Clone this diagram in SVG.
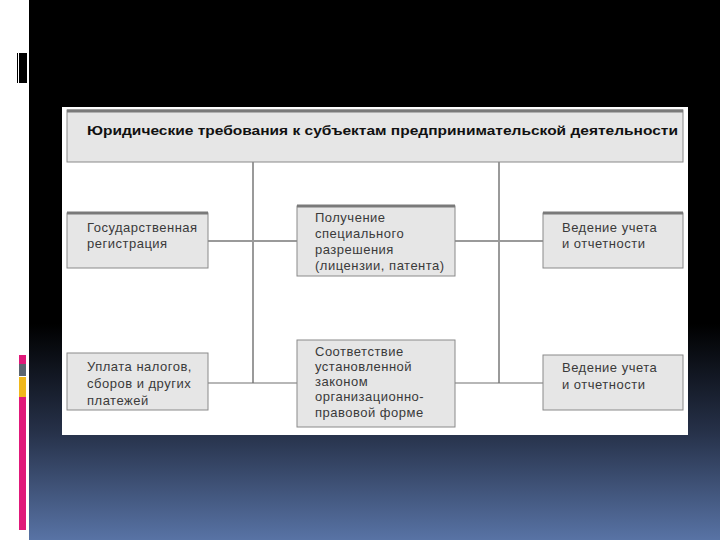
<svg xmlns="http://www.w3.org/2000/svg" width="720" height="540" viewBox="0 0 720 540">
<defs>
<linearGradient id="bg" x1="0" y1="0" x2="0" y2="1">
<stop offset="0" stop-color="#000000"/>
<stop offset="0.6" stop-color="#000000"/>
<stop offset="0.8" stop-color="#263149"/>
<stop offset="1" stop-color="#5873a5"/>
</linearGradient>
<style>
.box{fill:#e6e6e6;stroke:#8a8a8a;stroke-width:1}
.topb{stroke:#7a7a7a;stroke-width:3}
.t{font-family:"Liberation Sans","DejaVu Sans",sans-serif;font-size:13px;letter-spacing:0.5px;fill:#3a3a3a}
.title{font-family:"Liberation Sans","DejaVu Sans",sans-serif;font-size:12.5px;font-weight:bold;fill:#111}
.c1{stroke:#9a9a9a;stroke-width:2;fill:none}
.c2{stroke:#707070;stroke-width:1.2;fill:none}
</style>
</defs>
<rect x="0" y="0" width="720" height="540" fill="#ffffff"/>
<rect x="29" y="0" width="691" height="540" fill="url(#bg)"/>
<rect x="17" y="53" width="1" height="30" fill="#000"/>
<rect x="19" y="53" width="8" height="30" fill="#000"/>
<rect x="19" y="355" width="7" height="9" fill="#e0197a"/>
<rect x="19" y="364" width="7" height="12" fill="#5b6570"/>
<rect x="19" y="377" width="7" height="20" fill="#f0b81c"/>
<rect x="19" y="397" width="7" height="133" fill="#e0197a"/>
<rect x="62" y="107" width="626" height="328" fill="#ffffff"/>
<g id="connectors">
<path class="c1" d="M253 162V383M499 162V383"/>
<path class="c1" d="M208 241H297M455 241H543"/>
<path class="c2" d="M208 383H297M455 383H543"/>
</g>
<g id="header">
<rect class="box" x="67" y="110" width="616" height="52"/>
<line class="topb" x1="67" y1="111" x2="683" y2="111"/>
<text class="title" x="87" y="135" textLength="591" lengthAdjust="spacingAndGlyphs">Юридические требования к субъектам предпринимательской деятельности</text>
</g>
<g id="n1">
<rect class="box" x="67" y="213" width="141" height="55"/>
<line class="topb" x1="67" y1="213" x2="208" y2="213"/>
<text class="t" x="87" y="232">Государственная</text>
<text class="t" x="87" y="248">регистрация</text>
</g>
<g id="n2">
<rect class="box" x="297" y="206" width="158" height="70"/>
<line class="topb" x1="297" y1="206" x2="455" y2="206"/>
<text class="t" x="315" y="222">Получение</text>
<text class="t" x="315" y="238">специального</text>
<text class="t" x="315" y="254">разрешения</text>
<text class="t" x="315" y="270">(лицензии, патента)</text>
</g>
<g id="n3">
<rect class="box" x="543" y="213" width="140" height="55"/>
<line class="topb" x1="543" y1="213" x2="683" y2="213"/>
<text class="t" x="562" y="232">Ведение учета</text>
<text class="t" x="562" y="248">и отчетности</text>
</g>
<g id="n4">
<rect class="box" x="67" y="353" width="141" height="57"/>
<text class="t" x="87" y="371">Уплата налогов,</text>
<text class="t" x="87" y="388">сборов и других</text>
<text class="t" x="87" y="405">платежей</text>
</g>
<g id="n5">
<rect class="box" x="297" y="340" width="158" height="87"/>
<text class="t" x="315" y="356">Соответствие</text>
<text class="t" x="315" y="371">установленной</text>
<text class="t" x="315" y="386">законом</text>
<text class="t" x="315" y="401">организационно-</text>
<text class="t" x="315" y="417">правовой форме</text>
</g>
<g id="n6">
<rect class="box" x="543" y="355" width="140" height="55"/>
<text class="t" x="562" y="372">Ведение учета</text>
<text class="t" x="562" y="389">и отчетности</text>
</g>
</svg>
